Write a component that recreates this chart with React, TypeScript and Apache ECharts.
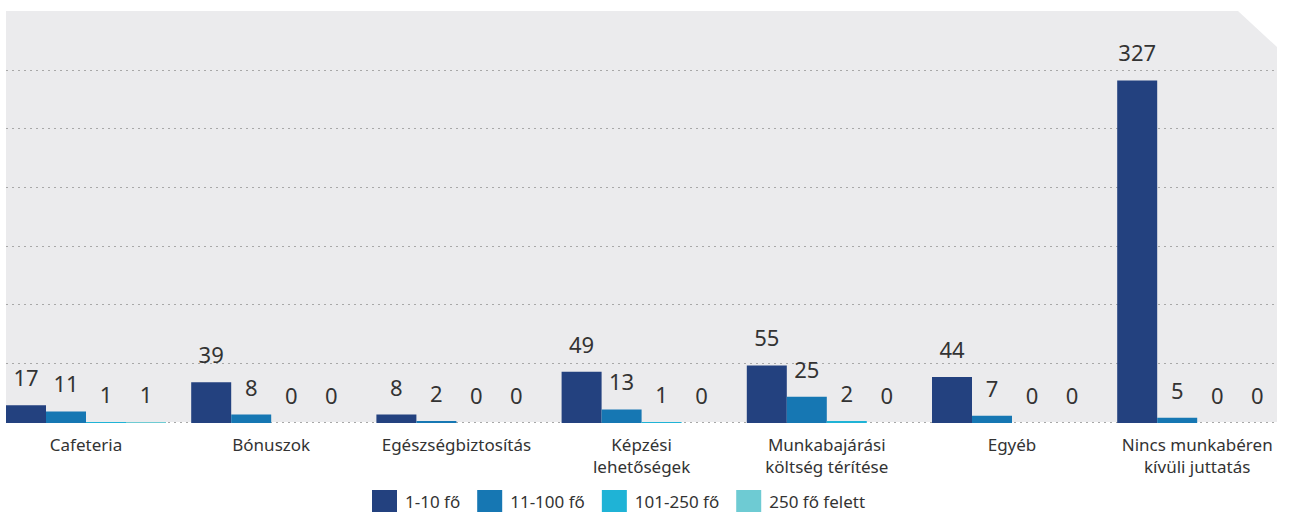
import React, { useEffect, useRef } from "react";
import * as echarts from "echarts";

const categories = [
  "Cafeteria",
  "Bónuszok",
  "Egészségbiztosítás",
  "Képzési\nlehetőségek",
  "Munkabajárási\nköltség térítése",
  "Egyéb",
  "Nincs munkabéren\nkívüli juttatás",
];
const seriesNames = ["1-10 fő", "11-100 fő", "101-250 fő", "250 fő felett"];
const s1 = [17, 39, 8, 49, 55, 44, 327];
const s2 = [11, 8, 2, 13, 25, 7, 5];
const s3 = [1, 0, 0, 1, 2, 0, 0];
const s4 = [1, 0, 0, 0, 0, 0, 0];
const colors = ["#23417f", "#1677b3", "#1fb3d6", "#6ecbd3"];

const FONT = "'Noto Sans', sans-serif";
const OFF = 20; // inner chart shifted left by this many pixels
const W = 1293 + OFF * 2;
const H = 513;

export default function App() {
  const ref = useRef<HTMLDivElement>(null);
  useEffect(() => {
    document.body.style.margin = "0";
    const chart = echarts.init(ref.current!, null, { renderer: "svg" });
    const values = [s1, s2, s3, s4];
    const px = (x: number) => x + OFF;
    chart.setOption({
      animation: false,
      textStyle: { fontFamily: FONT },
      graphic: [
        {
          type: "polygon",
          z: -10,
          silent: true,
          shape: {
            points: [
              [px(6), 11],
              [px(1238), 11],
              [px(1277), 47],
              [px(1277), 422],
              [px(6), 422],
            ],
          },
          style: { fill: "#ebebed" },
        },
      ],
      legend: {
        left: px(372),
        top: 490,
        padding: 0,
        itemWidth: 25,
        itemHeight: 22,
        itemGap: 17,
        icon: "rect",
        textStyle: { fontSize: 17, color: "#333", fontFamily: FONT, padding: [0, 0, 0, 3] },
        data: seriesNames,
      },
      grid: [
        { left: px(-6.6), width: 1296.4, top: 71, bottom: 90, containLabel: false },
        { left: px(6), width: 1271, top: 70, bottom: 91, containLabel: false },
      ],
      xAxis: [
        {
          type: "category",
          gridIndex: 0,
          data: categories,
          axisLine: { show: false },
          axisTick: { show: false },
          axisLabel: {
            color: "#333",
            fontSize: 17,
            lineHeight: 21.5,
            margin: 11,
            fontFamily: FONT,
            interval: 0,
          },
        },
        { type: "value", gridIndex: 1, show: false, min: 0, max: 1 },
      ],
      yAxis: [
        { type: "value", gridIndex: 0, min: 0, max: 336, interval: 56, show: false },
        {
          type: "value",
          gridIndex: 1,
          min: 0,
          max: 336,
          interval: 56,
          z: 1,
          axisLine: { show: false },
          axisTick: { show: false },
          axisLabel: { show: false },
          splitLine: {
            show: true,
            showMinLine: true,
            showMaxLine: true,
            lineStyle: { color: "#a8a8a8", type: [2, 4], width: 1 },
          },
        },
      ],
      series: seriesNames.map((name, i) => ({
        name,
        type: "bar",
        xAxisIndex: 0,
        yAxisIndex: 0,
        data: values[i],
        barWidth: 40,
        barGap: "0%",
        z: 3,
        itemStyle: { color: colors[i] },
        label: {
          show: true,
          position: "top",
          distance: 17,
          fontSize: 22,
          color: "#333",
          fontFamily: FONT,
        },
      })),
    });
    return () => chart.dispose();
  }, []);
  return (
    <div style={{ width: 1293, height: H, overflow: "hidden", position: "relative" }}>
      <div ref={ref} style={{ position: "absolute", left: -OFF, top: 0, width: W, height: H }} />
    </div>
  );
}
